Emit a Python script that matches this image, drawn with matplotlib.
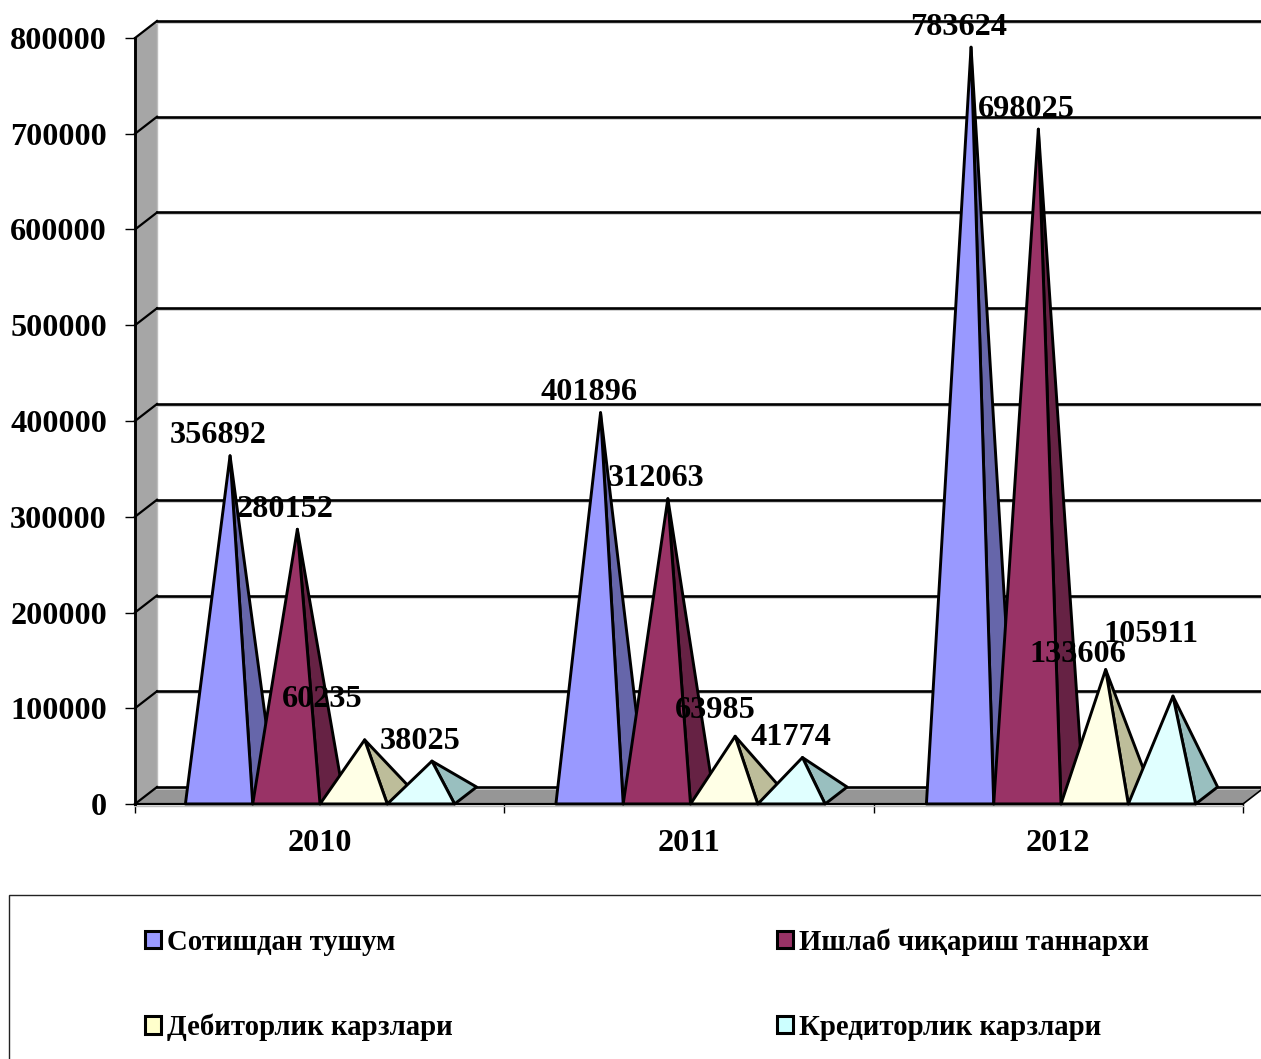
import matplotlib
matplotlib.use('Agg')
import matplotlib.pyplot as plt
from matplotlib.patches import Patch, Rectangle

plt.rcParams['font.family'] = ['Liberation Serif', 'DejaVu Serif']
plt.rcParams['font.weight'] = 'bold'

years = ['2010', '2011', '2012']
names = ['Сотишдан тушум', 'Ишлаб чиқариш таннархи', 'Дебиторлик карзлари', 'Кредиторлик карзлари']
sales = [356892, 401896, 783624]
cost = [280152, 312063, 698025]
debit = [60235, 63985, 133606]
credit = [38025, 41774, 105911]
series = [sales, cost, debit, credit]
y_ticks = [0, 100000, 200000, 300000, 400000, 500000, 600000, 700000, 800000]

front_colors = ['#9999FF', '#993366', '#FFFFE6', '#E0FFFF']
side_colors = ['#6666AA', '#662244', '#BDBD9A', '#99BFBF']
legend_colors = ['#9999FF', '#993366', '#FFFFCC', '#CCFFFF']

W, H = 1261, 1059
fig = plt.figure(figsize=(W / 100, H / 100), dpi=100)
ax = fig.add_axes([135 / W, (H - 804) / H, (W - 135) / W, 766 / H])
ax.set_xlim(0, (W - 135) / 369.33)
ax.set_ylim(0, 800000)
ax.patch.set_visible(False)

# size of one pixel in data units, the fake 3d depth is 22x17 px
px_x = 1 / 369.33
px_y = 800000 / 766
dx = 22 * px_x
dy = 17 * px_y

# walls
ax.fill([0, dx, dx, 0], [0, dy, 800000 + dy, 800000], color='#A6A6A6', lw=0, clip_on=False, zorder=1)
ax.fill([0, dx, 3 + dx, 3], [0, dy, dy, 0], color='#969696', lw=0, clip_on=False, zorder=1)

# gridlines on the back wall, with the light shadow under them
for v in y_ticks:
    ax.plot([dx, 4], [v + dy - 2 * px_y] * 2, color='#C8C8C8', lw=1.2, clip_on=False, zorder=1.5)
    ax.plot([dx, 4], [v + dy] * 2, color='black', lw=1.9, clip_on=False, zorder=2)
    ax.plot([0, dx], [v, v + dy], color='black', lw=1.6, clip_on=False, zorder=2)
ax.plot([dx, dx], [dy, 800000 + dy], color='#BEBEBE', lw=1, clip_on=False, zorder=1.5)
ax.plot([3, 3 + dx], [0, dy], color='black', lw=1.2, clip_on=False, zorder=2)
ax.plot([0, 3], [0, 0], color='black', lw=1.6, clip_on=False, zorder=6)
ax.plot([0, 3], [-2 * px_y] * 2, color='#BEBEBE', lw=1, clip_on=False, zorder=5)

# manual label moves (px) where the original had them dragged
label_offset = {(2, 0): (-42, 40), (2, 1): (-20, 26), (2, 2): (-28, 15), (3, 2): (-22, 62)}

w = 67.3 * px_x
group_pitch = 370.5 * px_x
first_group = 185 * px_x
for i, vals in enumerate(series):
    for j, v in enumerate(vals):
        x0 = first_group + j * group_pitch + (i - 2) * w
        x1 = x0 + w
        apex_x = (x0 + x1) / 2 + dx / 2
        apex_y = v + dy / 2 - 2 * px_y
        z = 3 + i * 0.1
        ax.fill([apex_x, x1, x1 + dx], [apex_y, 0, dy], facecolor=side_colors[i], edgecolor='black',
                lw=2.1, joinstyle='round', clip_on=False, zorder=z)
        ax.fill([x0, x1, apex_x], [0, 0, apex_y], facecolor=front_colors[i], edgecolor='black',
                lw=2.1, joinstyle='round', clip_on=False, zorder=z)
        off = label_offset.get((i, j), (-12, 20))
        ax.annotate(str(v), (apex_x, apex_y), xytext=off, textcoords='offset pixels', ha='center',
                    va='center', fontsize=23.2, fontweight='bold', color='black', zorder=10,
                    annotation_clip=False)

for s in ax.spines.values():
    s.set_visible(False)
ax.spines['left'].set_visible(True)
ax.spines['left'].set_linewidth(2.1)
ax.spines['left'].set_zorder(6)

ax.set_yticks(y_ticks)
ax.set_yticklabels([str(v) for v in y_ticks], fontsize=23.2, fontweight='bold')
ax.tick_params(axis='y', length=7.2, width=1, pad=13)
ax.set_xticks([0, 1, 2, 3])
ax.set_xticklabels([])
ax.set_xticks([0.5, 1.5, 2.5], minor=True)
ax.set_xticklabels(years, minor=True, fontsize=23.2, fontweight='bold')
ax.tick_params(axis='x', which='major', length=6.5, width=1)
ax.tick_params(axis='x', which='minor', length=0, pad=18)

# legend frame runs off the figure like in the original
fig.add_artist(Rectangle((9 / W, -10 / H), (W + 20) / W, (H - 895 + 10) / H, transform=fig.transFigure,
                         facecolor='none', edgecolor='#222222', lw=1))
handles = [Patch(facecolor=c, edgecolor='black', lw=2.2) for c in legend_colors]
# column order: first column gets entries 0 and 2
order = [0, 2, 1, 3]
fig.legend([handles[k] for k in order], [names[k] for k in order], ncol=2, frameon=False,
           loc='upper left', bbox_to_anchor=(145 / W, (H - 928) / H), borderaxespad=0, borderpad=0,
           prop={'family': 'Liberation Serif', 'weight': 'bold', 'size': 20.7},
           handlelength=0.55, handleheight=0.55, handletextpad=0.2,
           labelspacing=2.02, columnspacing=11.3)

fig.savefig('out.png', dpi=100)
